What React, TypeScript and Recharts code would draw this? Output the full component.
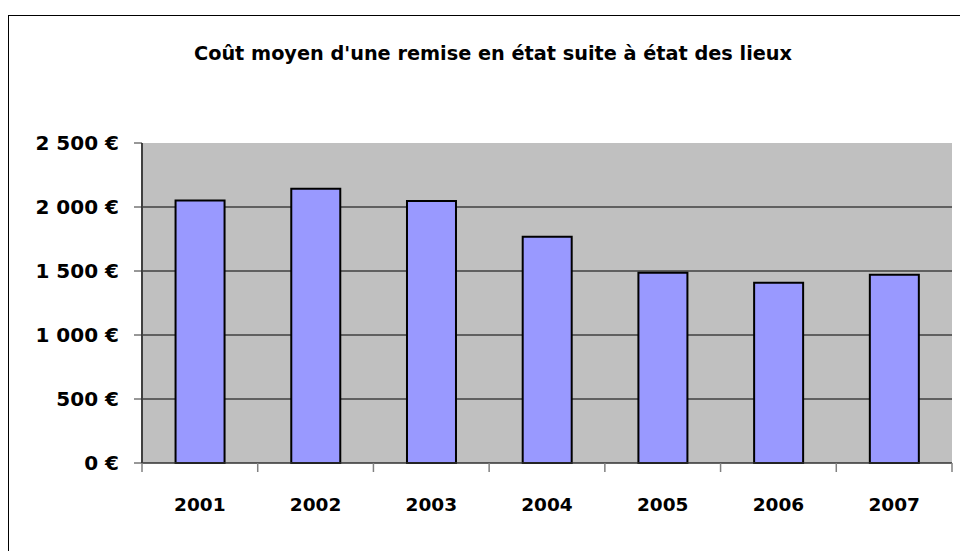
import React from "react";
import { BarChart, Bar, XAxis, YAxis, CartesianGrid } from "recharts";

// données
const years = ["2001", "2002", "2003", "2004", "2005", "2006", "2007"];
const costs = [2050, 2143, 2047, 1767, 1486, 1408, 1470];
const yTicks = [0, 500, 1000, 1500, 2000, 2500];
const gridValues = yTicks.filter((v) => v > 0 && v < 2500);
const TITLE = "Coût moyen d'une remise en état suite à état des lieux";

const data = years.map((year, i) => ({ year, cost: costs[i] }));

const FONT = "'Comic Sans MS', 'DejaVu Sans', sans-serif";
const W = 960;
const H = 551;

/** "2 500 €" avec espace normale pour les milliers */
const euro = (v: number): string =>
  String(v).replace(/\B(?=(\d{3})+(?!\d))/g, " ") + " €";

/** étiquette d'année + petites graduations aux limites de catégorie */
function YearTick(props: any) {
  const { x, y, payload } = props;
  const half = payload.offset || 57.75;
  const top = y - 8;
  const last = payload.value === years[years.length - 1];
  return (
    <g>
      <line x1={x - half} x2={x - half} y1={top} y2={top + 9} stroke="#808080" strokeWidth={1.5} />
      {last ? (
        <line x1={x + half} x2={x + half} y1={top} y2={top + 9} stroke="#808080" strokeWidth={1.5} />
      ) : null}
      <text
        x={x}
        y={top + 48}
        textAnchor="middle"
        fontFamily={FONT}
        fontWeight="bold"
        fontSize={18.5}
        fill="#000"
      >
        {payload.value}
      </text>
    </g>
  );
}

export default function App() {
  return (
    <div
      style={{
        position: "absolute",
        left: 0,
        top: 0,
        width: W,
        height: H,
        background: "#fff",
        overflow: "hidden",
        fontFamily: FONT,
      }}
    >
      {/* cadre du graphique (coupé à droite et en bas) */}
      <div
        style={{
          position: "absolute",
          left: 8,
          top: 15,
          width: W,
          height: H,
          borderLeft: "1px solid #000",
          borderTop: "1px solid #000",
        }}
      />
      <div
        style={{
          position: "absolute",
          left: 0,
          top: 42,
          width: 986,
          textAlign: "center",
          fontSize: 19.3,
          lineHeight: "24px",
          fontWeight: "bold",
          color: "#000",
        }}
      >
        {TITLE}
      </div>
      <div style={{ position: "absolute", left: 0, top: 0 }}>
        <BarChart
          width={W}
          height={H}
          data={data}
          margin={{ top: 143, right: 8, bottom: 8, left: 12 }}
          barCategoryGap="29%"
        >
          <CartesianGrid
            vertical={false}
            horizontalValues={gridValues}
            stroke="#000"
            strokeWidth={1}
            fill="#C0C0C0"
            fillOpacity={1}
          />
          <XAxis
            dataKey="year"
            height={80}
            tickLine={false}
            tickSize={8}
            tickMargin={0}
            interval={0}
            axisLine={{ stroke: "#303030", strokeWidth: 1.5 }}
            tick={<YearTick />}
          />
          <XAxis
            xAxisId="top"
            dataKey="year"
            orientation="top"
            height={0}
            tick={false}
            tickLine={false}
            axisLine={{ stroke: "#808080", strokeWidth: 2 }}
          />
          <YAxis
            width={130}
            domain={[0, 2500]}
            ticks={yTicks}
            interval={0}
            tickSize={8}
            tickMargin={15}
            tickFormatter={euro}
            axisLine={{ stroke: "#404040", strokeWidth: 2 }}
            tickLine={{ stroke: "#303030" }}
            tick={{ fontFamily: FONT, fontWeight: "bold", fontSize: 20, fill: "#000" }}
          />
          <YAxis
            yAxisId="right"
            orientation="right"
            width={0}
            domain={[0, 2500]}
            tick={false}
            tickLine={false}
            axisLine={{ stroke: "#808080", strokeWidth: 2 }}
          />
          <Bar
            dataKey="cost"
            fill="#9999FF"
            stroke="#000"
            strokeWidth={2}
            isAnimationActive={false}
          />
        </BarChart>
      </div>
    </div>
  );
}
